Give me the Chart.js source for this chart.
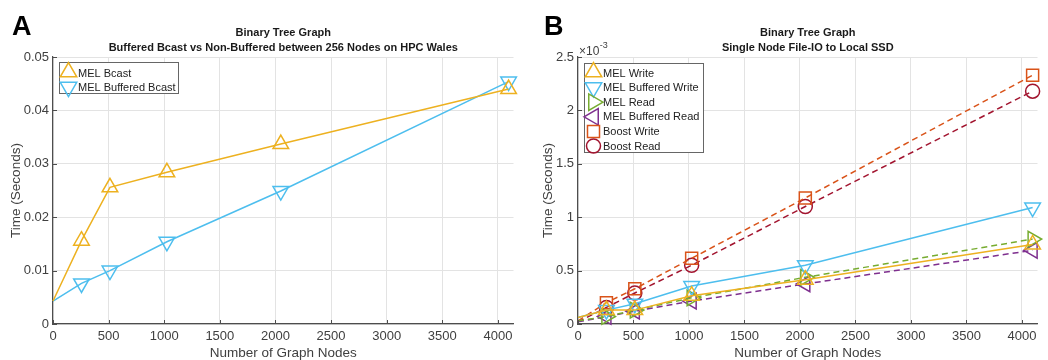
<!DOCTYPE html>
<html><head><meta charset="utf-8">
<script src="https://cdn.jsdelivr.net/npm/chart.js@4.4.0/dist/chart.umd.min.js"></script>
<style>
html,body{margin:0;padding:0;background:#fff;width:1048px;height:360px;overflow:hidden}
canvas{position:absolute;top:0}
#a{left:0}
#b{left:524px}
</style></head><body>
<canvas id="a" width="524" height="360"></canvas>
<canvas id="b" width="524" height="360"></canvas>
<script>
// ---------- DATA ----------
const nodes = [0, 256, 512, 1024, 2048, 4096];
const xTickValues = [0, 500, 1000, 1500, 2000, 2500, 3000, 3500, 4000];
const yTicksA = [0, 0.01, 0.02, 0.03, 0.04, 0.05];
const yTicksB = [0, 0.0005, 0.001, 0.0015, 0.002, 0.0025];

// Panel A (seconds)
const melBcast         = [0.0043, 0.0156, 0.0256, 0.0284, 0.0337, 0.0440];
const melBufferedBcast = [0.0043, 0.0076, 0.0100, 0.0154, 0.0249, 0.0454];

// Panel B (seconds)
const melWrite         = [0.000060, 0.000130, 0.000130, 0.000265, 0.000415, 0.000745];
const melBufferedWrite = [0.000060, 0.000130, 0.000190, 0.000355, 0.000550, 0.001090];
const melRead          = [0.000030, 0.000070, 0.000130, 0.000245, 0.000437, 0.000795];
const melBufferedRead  = [0.000020, 0.000070, 0.000120, 0.000215, 0.000375, 0.000690];
const boostWrite       = [0.000030, 0.000200, 0.000330, 0.000615, 0.001180, 0.002330];
const boostRead        = [0.000020, 0.000155, 0.000290, 0.000550, 0.001100, 0.002180];

// ---------- STYLE ----------
const FONT = '"Liberation Sans", Arial, Helvetica, sans-serif';
const AXIS = '#4d4d4d';
const TXT = '#404040';
const GRID = '#e3e3e3';
const C = {yellow:'#EDB120', blue:'#4DBEEE', green:'#77AC30', purple:'#7E2F8E', orange:'#D95319', red:'#A2142F'};

function pts(arr){ return nodes.map((x,i)=>({x:x, y:arr[i]})); }
function ds(label, arr, color, style, rot, dashed, r){
  return {
    label, data: pts(arr), borderColor: color, backgroundColor: 'rgba(0,0,0,0)',
    borderWidth: 1.5, borderDash: dashed ? [6,4] : [],
    pointStyle: style, pointRotation: rot,
    pointRadius: nodes.map((x,i)=> i===0 ? 0 : r),
    pointBorderColor: color, pointBackgroundColor: 'rgba(0,0,0,0)', pointBorderWidth: 1.5,
    tension: 0, clip: false, fill: false
  };
}

function drawMarker(ctx, style, rot, r, x, y, color){
  ctx.save();
  ctx.strokeStyle = color; ctx.lineWidth = 1.5; ctx.setLineDash([]);
  ctx.beginPath();
  if (style === 'triangle'){
    let a = rot * Math.PI/180;
    ctx.moveTo(x + Math.sin(a)*r, y - Math.cos(a)*r);
    a += 2*Math.PI/3; ctx.lineTo(x + Math.sin(a)*r, y - Math.cos(a)*r);
    a += 2*Math.PI/3; ctx.lineTo(x + Math.sin(a)*r, y - Math.cos(a)*r);
    ctx.closePath();
  } else if (style === 'rect'){
    const s = Math.SQRT1_2 * r;
    ctx.rect(x - s, y - s, 2*s, 2*s);
  } else {
    ctx.arc(x, y, r, 0, Math.PI*2);
  }
  ctx.stroke();
  ctx.restore();
}

function decorPlugin(cfg){
  return {
    id: 'decor',
    afterDraw(chart){
      const ctx = chart.ctx, ca = chart.chartArea;
      const xs = chart.scales.x, ys = chart.scales.y;
      ctx.save();
      // inward ticks
      ctx.strokeStyle = AXIS; ctx.lineWidth = 1;
      xs.ticks.forEach(t=>{ const px = Math.round(xs.getPixelForValue(t.value))+0.5;
        ctx.beginPath(); ctx.moveTo(px, ca.bottom); ctx.lineTo(px, ca.bottom-4); ctx.stroke(); });
      ys.ticks.forEach(t=>{ const py = Math.round(ys.getPixelForValue(t.value))+0.5;
        ctx.beginPath(); ctx.moveTo(ca.left, py); ctx.lineTo(ca.left+4, py); ctx.stroke(); });
      // panel letter
      ctx.fillStyle = '#000'; ctx.textBaseline = 'alphabetic'; ctx.textAlign = 'left';
      ctx.font = 'bold 27px ' + FONT;
      ctx.fillText(cfg.letter, cfg.letterX, 35);
      // titles
      const cx = (ca.left + ca.right)/2;
      ctx.fillStyle = '#1a1a1a'; ctx.textAlign = 'center'; ctx.textBaseline = 'middle';
      ctx.font = 'bold 11px ' + FONT;
      ctx.fillText(cfg.title[0], cx, 33);
      ctx.fillText(cfg.title[1], cx, 48);
      // axis titles
      ctx.fillStyle = TXT; ctx.font = '13.5px ' + FONT;
      ctx.textBaseline = 'alphabetic';
      ctx.fillText('Number of Graph Nodes', cx, 357);
      ctx.save();
      ctx.translate(cfg.yTitleX, (ca.top + ca.bottom)/2);
      ctx.rotate(-Math.PI/2);
      ctx.textBaseline = 'middle';
      ctx.fillText('Time (Seconds)', 0, 0);
      ctx.restore();
      // exponent
      if (cfg.exponent){
        ctx.textAlign = 'left'; ctx.textBaseline = 'alphabetic';
        ctx.font = '12px ' + FONT; ctx.fillStyle = TXT;
        ctx.fillText('\u00d710', ca.left + 1, 55);
        const w = ctx.measureText('\u00d710').width;
        ctx.font = '9px ' + FONT;
        ctx.fillText('-3', ca.left + 1 + w + 0.5, 48);
      }
      // legend
      const L = cfg.legend;
      ctx.fillStyle = '#fff'; ctx.fillRect(L.x, L.y, L.w, L.h);
      ctx.strokeStyle = '#666'; ctx.lineWidth = 1;
      ctx.strokeRect(L.x + 0.5, L.y + 0.5, L.w, L.h);
      ctx.font = '11px ' + FONT; ctx.fillStyle = '#222';
      ctx.textAlign = 'left'; ctx.textBaseline = 'middle';
      chart.data.datasets.forEach((d,i)=>{
        const yy = L.y + L.first + i*L.step;
        const r = d.pointStyle === 'triangle' ? 9.5 : (d.pointStyle === 'rect' ? 8.5 : 7);
        let my = yy;
        if (d.pointStyle === 'triangle' && d.pointRotation === 0) my = yy - 1;
        drawMarker(ctx, d.pointStyle, d.pointRotation, r, L.x + 9.5, my, d.borderColor);
        ctx.fillStyle = '#222';
        ctx.fillText(d.label, L.x + 19, yy + 0.5);
      });
      ctx.restore();
    }
  };
}

function makeChart(id, datasets, yMax, yTicks, yFmt, leftW, rightPad, cfg){
  return new Chart(document.getElementById(id), {
    type: 'line',
    data: { datasets },
    options: {
      responsive: false, animation: false, devicePixelRatio: 1,
      layout: { padding: { top: 57, right: rightPad, left: 0, bottom: 0 } },
      plugins: { legend: { display: false }, tooltip: { enabled: false }, title: { display: false } },
      scales: {
        x: {
          type: 'linear', min: 0, max: 4140,
          afterBuildTicks: s => { s.ticks = xTickValues.map(v => ({ value: v })); },
          ticks: { color: TXT, padding: 5,
                   font: { family: FONT, size: 13 }, maxRotation: 0, autoSkip: false,
                   callback: v => String(v) },
          grid: { color: GRID, drawTicks: false, lineWidth: 1 },
          border: { display: true, color: AXIS, width: 1.2 },
          afterFit: s => { s.height = 36; }
        },
        y: {
          type: 'linear', min: 0, max: yMax,
          afterBuildTicks: s => { s.ticks = yTicks.map(v => ({ value: v })); },
          ticks: { color: TXT, padding: 4, autoSkip: false,
                   font: { family: FONT, size: 13 }, callback: yFmt },
          grid: { color: GRID, drawTicks: false, lineWidth: 1 },
          border: { display: true, color: AXIS, width: 1.2 },
          afterFit: s => { s.width = leftW; }
        }
      }
    },
    plugins: [decorPlugin(cfg)]
  });
}

const R = 9;
makeChart('a', [
  ds('MEL Bcast', melBcast, C.yellow, 'triangle', 0, false, R),
  ds('MEL Buffered Bcast', melBufferedBcast, C.blue, 'triangle', 180, false, R)
], 0.05, yTicksA, v => v === 0 ? '0' : (+v).toFixed(2), 53, 9, {
  letter: 'A', letterX: 12, yTitleX: 16,
  title: ['Binary Tree Graph', 'Buffered Bcast vs Non-Buffered between 256 Nodes on HPC Wales'],
  legend: { x: 59, y: 62, w: 119, h: 31, first: 11, step: 14 }
});

makeChart('b', [
  ds('MEL Write', melWrite, C.yellow, 'triangle', 0, false, R),
  ds('MEL Buffered Write', melBufferedWrite, C.blue, 'triangle', 180, false, R),
  ds('MEL Read', melRead, C.green, 'triangle', 90, true, R),
  ds('MEL Buffered Read', melBufferedRead, C.purple, 'triangle', 270, true, R),
  ds('Boost Write', boostWrite, C.orange, 'rect', 0, true, 8.5),
  ds('Boost Read', boostRead, C.red, 'circle', 0, true, 7)
], 0.0025, yTicksB, v => { const k = Math.round(v*10000)/10; return k === 0 ? '0' : String(k); }, 54, 8, {
  letter: 'B', letterX: 20, yTitleX: 24, exponent: true,
  title: ['Binary Tree Graph', 'Single Node File-IO to Local SSD'],
  legend: { x: 60, y: 63, w: 119, h: 89, first: 10, step: 14.6 }
});
</script>
</body></html>
